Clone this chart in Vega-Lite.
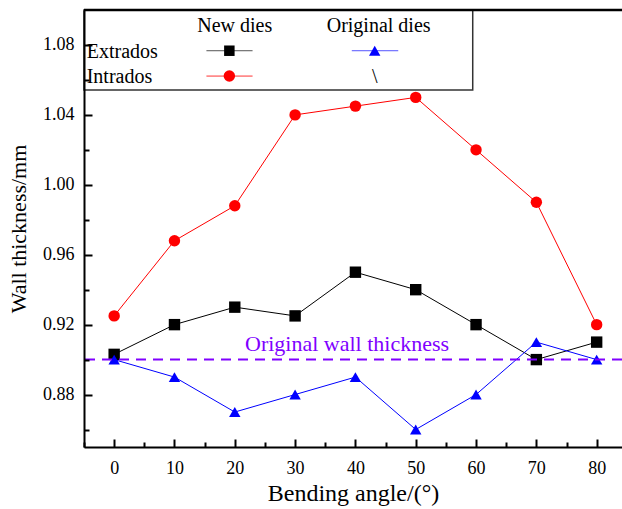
{
  "$schema": "https://vega.github.io/schema/vega-lite/v6.json",
  "autosize": "none",
  "width": 538,
  "height": 437,
  "padding": {"left": 84, "top": 10, "right": 0, "bottom": 62},
  "background": "white",
  "config": {
    "view": {"stroke": null},
    "font": "Liberation Serif",
    "axis": {
      "labelFont": "Liberation Serif",
      "titleFont": "Liberation Serif",
      "labelColor": "black",
      "titleColor": "black",
      "titleFontWeight": "normal",
      "domainColor": "black",
      "tickColor": "black",
      "grid": false
    }
  },
  "datasets": {
    "main": [
      {"angle": 0, "thickness": 0.903, "series": "Extrados new dies"},
      {"angle": 10, "thickness": 0.92, "series": "Extrados new dies"},
      {"angle": 20, "thickness": 0.93, "series": "Extrados new dies"},
      {"angle": 30, "thickness": 0.925, "series": "Extrados new dies"},
      {"angle": 40, "thickness": 0.95, "series": "Extrados new dies"},
      {"angle": 50, "thickness": 0.94, "series": "Extrados new dies"},
      {"angle": 60, "thickness": 0.92, "series": "Extrados new dies"},
      {"angle": 70, "thickness": 0.90, "series": "Extrados new dies"},
      {"angle": 80, "thickness": 0.91, "series": "Extrados new dies"},
      {"angle": 0, "thickness": 0.925, "series": "Intrados new dies"},
      {"angle": 10, "thickness": 0.968, "series": "Intrados new dies"},
      {"angle": 20, "thickness": 0.988, "series": "Intrados new dies"},
      {"angle": 30, "thickness": 1.04, "series": "Intrados new dies"},
      {"angle": 40, "thickness": 1.045, "series": "Intrados new dies"},
      {"angle": 50, "thickness": 1.05, "series": "Intrados new dies"},
      {"angle": 60, "thickness": 1.02, "series": "Intrados new dies"},
      {"angle": 70, "thickness": 0.99, "series": "Intrados new dies"},
      {"angle": 80, "thickness": 0.92, "series": "Intrados new dies"},
      {"angle": 0, "thickness": 0.90, "series": "Extrados original dies"},
      {"angle": 10, "thickness": 0.89, "series": "Extrados original dies"},
      {"angle": 20, "thickness": 0.87, "series": "Extrados original dies"},
      {"angle": 30, "thickness": 0.88, "series": "Extrados original dies"},
      {"angle": 40, "thickness": 0.89, "series": "Extrados original dies"},
      {"angle": 50, "thickness": 0.86, "series": "Extrados original dies"},
      {"angle": 60, "thickness": 0.88, "series": "Extrados original dies"},
      {"angle": 70, "thickness": 0.91, "series": "Extrados original dies"},
      {"angle": 80, "thickness": 0.90, "series": "Extrados original dies"}
    ],
    "one": [{}]
  },
  "resolve": {"axis": {"x": "independent", "y": "independent"}},
  "layer": [
    {
      "data": {"name": "main"},
      "mark": {"type": "line", "strokeWidth": 1, "clip": true},
      "encoding": {
        "x": {"field": "angle", "type": "quantitative",
          "scale": {"domain": [-5, 84.2], "nice": false, "zero": false},
          "axis": {"orient": "bottom", "values": [0, 10, 20, 30, 40, 50, 60, 70, 80], "title": "Bending angle/(°)", "titleFontSize": 24, "titlePadding": 4, "labelFontSize": 18, "labelPadding": 12, "ticks": false, "domainWidth": 2, "labelFlush": false, "zindex": 1}},
        "y": {"field": "thickness", "type": "quantitative",
          "scale": {"domain": [0.85, 1.10], "nice": false, "zero": false},
          "axis": {"orient": "left", "values": [0.88, 0.92, 0.96, 1.00, 1.04, 1.08], "format": ".2f", "title": "Wall thickness/mm", "titleFontSize": 22, "titlePadding": 12, "labelFontSize": 18, "labelPadding": 10, "ticks": false, "domainWidth": 2, "labelFlush": false, "zindex": 1}},
        "color": {"field": "series", "type": "nominal", "legend": null,
          "scale": {"domain": ["Extrados new dies", "Intrados new dies", "Extrados original dies"], "range": ["#000000", "#ff0000", "#0000ff"]}}
      }
    },
    {
      "data": {"name": "main"},
      "mark": {"type": "point", "filled": true, "opacity": 1, "clip": true},
      "encoding": {
        "x": {"field": "angle", "type": "quantitative", "axis": {"orient": "bottom", "values": [0, 10, 20, 30, 40, 50, 60, 70, 80], "labels": false, "title": null, "domain": false, "ticks": true, "tickSize": 8, "tickWidth": 2, "offset": -8, "zindex": 1}},
        "y": {"field": "thickness", "type": "quantitative", "axis": {"orient": "left", "values": [0.88, 0.92, 0.96, 1.00, 1.04, 1.08], "labels": false, "title": null, "domain": false, "ticks": true, "tickSize": 8, "tickWidth": 2, "offset": -8, "zindex": 1}},
        "color": {"field": "series", "type": "nominal", "legend": null},
        "shape": {"field": "series", "type": "nominal", "legend": null,
          "scale": {"domain": ["Extrados new dies", "Intrados new dies", "Extrados original dies"], "range": ["square", "circle", "triangle-up"]}},
        "size": {"value": 130}
      }
    },
    {
      "data": {"name": "main"},
      "mark": {"type": "point", "opacity": 0},
      "encoding": {
        "x": {"field": "angle", "type": "quantitative", "axis": {"orient": "bottom", "values": [-5, 5, 15, 25, 35, 45, 55, 65, 75], "labels": false, "title": null, "domain": false, "ticks": true, "tickSize": 5, "tickWidth": 2, "offset": -5, "zindex": 1}},
        "y": {"field": "thickness", "type": "quantitative", "axis": {"orient": "left", "values": [0.86, 0.90, 0.94, 0.98, 1.02, 1.06], "labels": false, "title": null, "domain": false, "ticks": true, "tickSize": 5, "tickWidth": 2, "offset": -5, "zindex": 1}}
      }
    },
    {
      "data": {"name": "one"},
      "mark": {"type": "rule", "color": "#8000ff", "strokeWidth": 2, "strokeDash": [10, 7]},
      "encoding": {"y": {"datum": 0.9, "axis": null}}
    },
    {
      "data": {"name": "one"},
      "mark": {"type": "text", "color": "#8000ff", "fontSize": 22, "align": "left", "baseline": "alphabetic"},
      "encoding": {"x": {"datum": 21.7, "axis": null}, "y": {"datum": 0.905, "axis": null}, "text": {"value": "Original wall thickness"}}
    },
    {
      "data": {"name": "one"},
      "mark": {"type": "rect", "fill": "white", "stroke": "#333333", "strokeWidth": 1.5},
      "encoding": {"x": {"datum": -5, "axis": null}, "x2": {"datum": 59.45}, "y": {"datum": 1.0542, "axis": null}, "y2": {"datum": 1.10}}
    },
    {
      "data": {"name": "one"},
      "mark": {"type": "rule", "color": "black", "strokeWidth": 2.5},
      "encoding": {"y": {"datum": 1.10, "axis": null}}
    },
    {
      "data": {"name": "one"},
      "mark": {"type": "text", "color": "black", "fontSize": 20, "align": "center", "baseline": "alphabetic"},
      "encoding": {"x": {"datum": 20, "axis": null}, "y": {"datum": 1.0874, "axis": null}, "text": {"value": "New dies"}}
    },
    {
      "data": {"name": "one"},
      "mark": {"type": "text", "color": "black", "fontSize": 20, "align": "center", "baseline": "alphabetic"},
      "encoding": {"x": {"datum": 43.85, "axis": null}, "y": {"datum": 1.0874, "axis": null}, "text": {"value": "Original dies"}}
    },
    {
      "data": {"name": "one"},
      "mark": {"type": "text", "color": "black", "fontSize": 20, "align": "left", "baseline": "alphabetic"},
      "encoding": {"x": {"datum": -4.55, "axis": null}, "y": {"datum": 1.0725, "axis": null}, "text": {"value": "Extrados"}}
    },
    {
      "data": {"name": "one"},
      "mark": {"type": "text", "color": "black", "fontSize": 20, "align": "left", "baseline": "alphabetic"},
      "encoding": {"x": {"datum": -4.55, "axis": null}, "y": {"datum": 1.0582, "axis": null}, "text": {"value": "Intrados"}}
    },
    {
      "data": {"name": "one"},
      "mark": {"type": "text", "color": "black", "fontSize": 20, "align": "center", "baseline": "alphabetic"},
      "encoding": {"x": {"datum": 43.2, "axis": null}, "y": {"datum": 1.0582, "axis": null}, "text": {"value": "\\"}}
    },
    {
      "data": {"name": "one"},
      "mark": {"type": "rule", "color": "#555555", "strokeWidth": 1},
      "encoding": {"x": {"datum": 15.3, "axis": null}, "x2": {"datum": 22.95}, "y": {"datum": 1.0767, "axis": null}}
    },
    {
      "data": {"name": "one"},
      "mark": {"type": "rule", "color": "#ff3333", "strokeWidth": 1},
      "encoding": {"x": {"datum": 15.3, "axis": null}, "x2": {"datum": 22.95}, "y": {"datum": 1.0622, "axis": null}}
    },
    {
      "data": {"name": "one"},
      "mark": {"type": "rule", "color": "#5555ff", "strokeWidth": 1},
      "encoding": {"x": {"datum": 39.4, "axis": null}, "x2": {"datum": 47.1}, "y": {"datum": 1.0767, "axis": null}}
    },
    {
      "data": {"name": "one"},
      "mark": {"type": "point", "shape": "square", "filled": true, "color": "black", "opacity": 1, "size": 110},
      "encoding": {"x": {"datum": 19.1, "axis": null}, "y": {"datum": 1.0767, "axis": null}}
    },
    {
      "data": {"name": "one"},
      "mark": {"type": "point", "shape": "circle", "filled": true, "color": "#ff0000", "opacity": 1, "size": 130},
      "encoding": {"x": {"datum": 19.1, "axis": null}, "y": {"datum": 1.0622, "axis": null}}
    },
    {
      "data": {"name": "one"},
      "mark": {"type": "point", "shape": "triangle-up", "filled": true, "color": "#0000ff", "opacity": 1, "size": 130},
      "encoding": {"x": {"datum": 43.2, "axis": null}, "y": {"datum": 1.0767, "axis": null}}
    }
  ]
}
